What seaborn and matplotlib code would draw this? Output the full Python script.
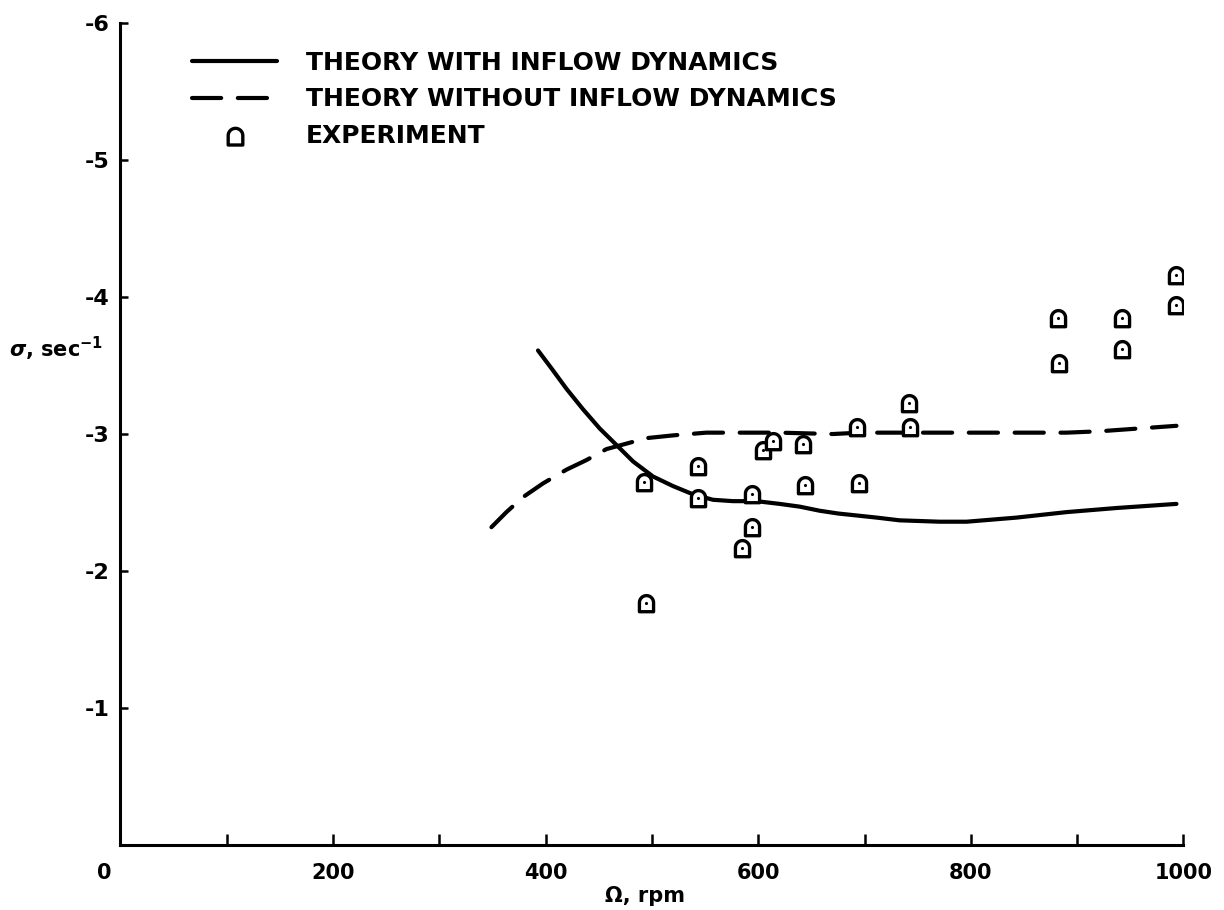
import numpy as np
import matplotlib
matplotlib.use("Agg")
import matplotlib.pyplot as plt
from matplotlib.path import Path
from matplotlib.markers import MarkerStyle
from matplotlib.ticker import MultipleLocator
from matplotlib.transforms import ScaledTranslation
import seaborn as sns

# ---------------- data ----------------
with_x = [392.8, 405.4, 419.6, 435.2, 450.9, 466.6, 482.2, 501.0, 519.8,
          538.6, 557.4, 576.2, 598.2, 620.1, 638.9, 657.8, 674.9, 711.3,
          733.0, 770.6, 796.0, 843.0, 890.0, 937.0, 993.4]
with_y = [-3.61, -3.48, -3.33, -3.18, -3.04, -2.92, -2.80, -2.69, -2.62,
          -2.56, -2.52, -2.51, -2.51, -2.49, -2.47, -2.44, -2.42, -2.39,
          -2.37, -2.36, -2.36, -2.39, -2.43, -2.46, -2.49]

without_x = [349.0, 363.1, 378.8, 397.6, 419.6, 438.4, 457.2, 476.0, 494.8,
             519.8, 551.2, 582.5, 620.1, 670.2, 695.3, 770.6, 843.0, 890.0,
             921.0, 993.4]
without_y = [-2.32, -2.43, -2.54, -2.64, -2.74, -2.81, -2.89, -2.93, -2.97,
             -2.99, -3.01, -3.01, -3.01, -3.00, -3.01, -3.01, -3.01, -3.01,
             -3.02, -3.06]

exp_x = [492.8, 494.1, 543.0, 543.0, 584.4, 593.8, 593.8, 604.1, 613.5,
         641.8, 643.6, 692.5, 694.5, 742.4, 742.0, 881.6, 882.5, 942.6,
         942.6, 992.5, 993.4]
exp_y = [-2.65, -1.77, -2.77, -2.53, -2.17, -2.32, -2.56, -2.88, -2.95,
         -2.93, -2.63, -3.05, -2.64, -3.05, -3.23, -3.85, -3.52, -3.85,
         -3.62, -4.16, -3.94]

x_ticks = [0, 200, 400, 600, 800, 1000]
y_ticks = [-1, -2, -3, -4, -5, -6]

labels = ["THEORY WITH INFLOW DYNAMICS", "THEORY WITHOUT INFLOW DYNAMICS",
          "EXPERIMENT"]

# ---------------- style ----------------
sns.set_theme(style="white")
plt.rcParams["font.family"] = ["DejaVu Sans"]
plt.rcParams["font.weight"] = "bold"
plt.rcParams["mathtext.default"] = "regular"
for k in ["text.color", "axes.labelcolor", "xtick.color", "ytick.color"]:
    plt.rcParams[k] = "black"

fig = plt.figure(figsize=(12.24, 9.10), dpi=100)
ax = fig.add_axes([0.0984, 0.0714, 0.8685, 0.9033])

# arch-shaped marker (flat bottom, round top)
t = np.linspace(0, np.pi, 25)
r = 0.43
arc = np.column_stack([r * np.cos(t), 0.05 + r * np.sin(t)])
verts = np.vstack([[[-r, -0.5], [r, -0.5]], arc, [[-r, -0.5]]])
codes = [Path.MOVETO] + [Path.LINETO] * (len(verts) - 2) + [Path.CLOSEPOLY]
arch = MarkerStyle(Path(verts, codes))

sns.lineplot(x=with_x, y=with_y, ax=ax, color="black", lw=3.0,
             sort=False, estimator=None, label=labels[0],
             solid_capstyle="round", solid_joinstyle="round")
sns.lineplot(x=without_x, y=without_y, ax=ax, color="black", lw=3.0,
             sort=False, estimator=None, label=labels[1],
             linestyle=(0, (7, 4)), dash_capstyle="round",
             dash_joinstyle="round")
sns.scatterplot(x=exp_x, y=exp_y, ax=ax, marker=arch, s=140,
                facecolor="white", edgecolor="black", linewidth=2.4,
                label=labels[2], zorder=5)
sns.scatterplot(x=exp_x, y=exp_y, ax=ax, marker="o", s=5,
                color="black", linewidth=0, legend=False, zorder=6)

# ---------------- axes ----------------
ax.set_xlim(0, 1000)
ax.set_ylim(0, -6)
ax.set_xticks(x_ticks)
ax.set_yticks(y_ticks)
ax.xaxis.set_minor_locator(MultipleLocator(100))
ax.set_xticklabels([str(v) for v in x_ticks], fontsize=15, fontweight="bold")
ax.set_yticklabels([str(v) for v in y_ticks], fontsize=16, fontweight="bold")
ax.tick_params(axis="x", which="both", direction="in", length=8, width=1.8,
               pad=13, bottom=True, color="black", labelcolor="black")
ax.tick_params(axis="y", which="both", direction="in", length=6, width=1.8,
               pad=8, left=True, color="black", labelcolor="black")
zero_lab = ax.get_xticklabels()[0]
zero_lab.set_transform(zero_lab.get_transform() +
                       ScaledTranslation(-16 / 100, 0, fig.dpi_scale_trans))
for s in ["top", "right"]:
    ax.spines[s].set_visible(False)
for s in ["left", "bottom"]:
    ax.spines[s].set_color("black")
    ax.spines[s].set_linewidth(2.2)
ax.grid(False)
ax.set_xlabel("")
ax.set_ylabel("")

ax.text(0.493, -0.062, "\u03A9, rpm", transform=ax.transAxes,
        ha="center", va="center", fontsize=15, fontweight="bold",
        color="black")
ax.text(-0.061, -3.62, r"$\mathit{\sigma}$, sec$^{-1}$",
        transform=ax.get_yaxis_transform(), ha="center", va="center",
        fontsize=15, fontweight="bold", color="black")

leg = ax.legend(loc="upper left", bbox_to_anchor=(192 / 1224, 1 - 51 / 910),
                bbox_transform=fig.transFigure, frameon=False,
                borderpad=0, borderaxespad=0, handlelength=3.4,
                handletextpad=1.15, labelspacing=0.5, scatterpoints=1,
                prop={"size": 18, "weight": "bold"})
for txt in leg.get_texts():
    txt.set_color("black")
for h in leg.legend_handles:
    try:
        h.set_sizes([150])
    except AttributeError:
        pass

fig.savefig("out.png", dpi=100, facecolor="white")
